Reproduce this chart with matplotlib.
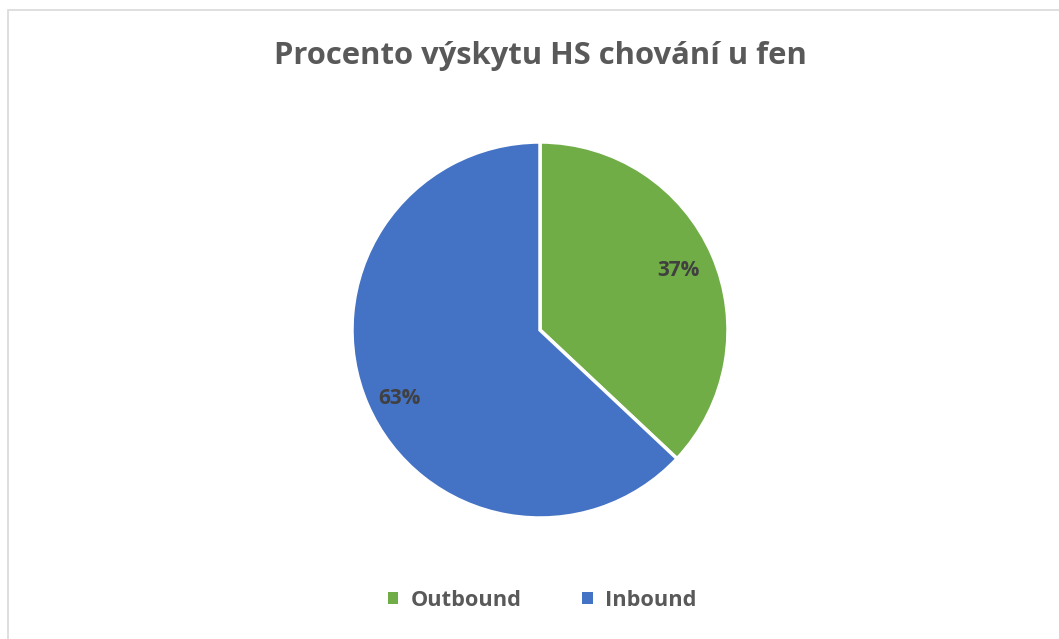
import numpy as np
import matplotlib.pyplot as plt
from matplotlib.patches import Rectangle

plt.rcParams['font.family'] = ['Open Sans', 'DejaVu Sans']

# data
labels = ['Outbound', 'Inbound']
values = [37, 63]
colors = ['#70AD47', '#4472C4']

fig = plt.figure(figsize=(10.59, 6.39), dpi=100)

# chart border like in the spreadsheet export
fig.patches.append(Rectangle((8 / 1059, -0.05), 1.1, 1 - 10 / 639 + 0.05,
                             transform=fig.transFigure, fill=False,
                             edgecolor='#D9D9D9', linewidth=1.2))

ax = fig.add_axes([(540 - 188) / 1059, (639 - 518) / 639, 376 / 1059, 376 / 639])
wedges, texts, autotexts = ax.pie(values, colors=colors, startangle=90, counterclock=False,
                                  autopct='%1.0f%%', pctdistance=0.8,
                                  wedgeprops=dict(edgecolor='white', linewidth=2.5),
                                  textprops=dict(color='#404040', fontsize=15, fontweight='bold'))
# excel puts the big slice label a bit lower than the wedge middle
w = wedges[1]
ang = np.deg2rad((w.theta1 + w.theta2) / 2 + 2.5)
autotexts[1].set_position((0.83 * np.cos(ang), 0.83 * np.sin(ang)))

ax.set_xlim(-1, 1)
ax.set_ylim(-1, 1)
ax.set_aspect('equal')

fig.text(0.51, 1 - 56 / 639, 'Procento výskytu HS chování u fen', ha='center', va='center',
         fontsize=22.3, fontweight='bold', color='#595959')

leg = fig.legend(wedges, labels, loc='center', bbox_to_anchor=(0.512, 1 - 600 / 639), ncol=2,
                 frameon=False, handlelength=0.5, handleheight=0.5, handletextpad=0.55,
                 columnspacing=2.8, prop=dict(size=15.7, weight='bold'))
for t in leg.get_texts():
    t.set_color('#595959')
for h in leg.legend_handles:
    h.set_edgecolor('none')

fig.savefig('out.png', dpi=100)
